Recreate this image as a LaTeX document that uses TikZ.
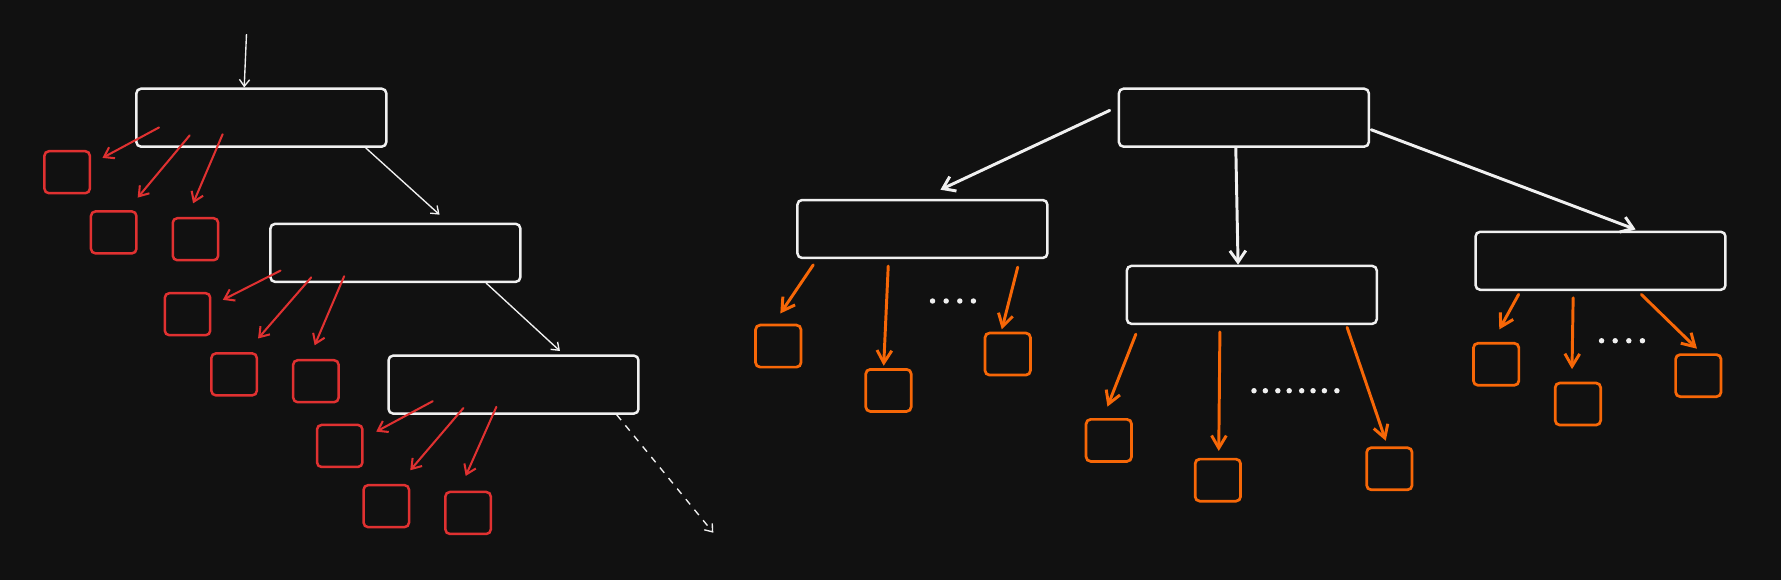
\documentclass[tikz,border=0pt]{standalone}
\usetikzlibrary{arrows.meta}
\definecolor{bgc}{HTML}{111111}
\definecolor{fgw}{HTML}{F0F0F0}
\definecolor{redc}{HTML}{E03131}
\definecolor{orgc}{HTML}{F76707}
\begin{document}
\begin{tikzpicture}[x=0.5pt,y=-0.5pt,
  wbox/.style={draw=fgw, line width=1.1pt, rounded corners=2pt, minimum width=110pt, minimum height=25.5pt, inner sep=0pt, anchor=north west},
  rsq/.style={draw=redc, line width=1.1pt, rounded corners=2pt, minimum width=20pt, minimum height=18.5pt, inner sep=0pt, anchor=north west},
  osq/.style={draw=orgc, line width=1.2pt, rounded corners=2pt, minimum width=20pt, minimum height=18.5pt, inner sep=0pt, anchor=north west},
  wthin/.style={draw=fgw, line width=0.6pt, -{Straight Barb[length=3pt,width=4.5pt]}},
  wthick/.style={draw=fgw, line width=1.3pt, line cap=round, -{Straight Barb[length=5pt,width=7pt]}},
  rarr/.style={draw=redc, line width=0.9pt, line cap=round, -{Straight Barb[length=4pt,width=5.5pt]}},
  oarr/.style={draw=orgc, line width=1.3pt, line cap=round, -{Straight Barb[length=5.5pt,width=6.5pt]}},
  dotc/.style={circle, fill=fgw, inner sep=0pt, minimum size=2.4pt}
]
\fill[bgc] (0,0) rectangle (1568,510.6);
\useasboundingbox (0,0) rectangle (1568,510.6);

% ---------- left chain ----------
\node[wbox] (A) at (119,77) {};
\node[wbox] (B) at (237,196) {};
\node[wbox] (C) at (341,312) {};

\coordinate (top) at (217,30);
\draw[wthin] (top) -- (A.north -| 215,0);
\draw[wthin] (A.south -| 322,0) -- ([shift={(0,-7)}]B.north -| 387,0);
\draw[wthin] (B.south -| 428,0) -- ([shift={(0,-3)}]C.north -| 493,0);
\coordinate (cend) at (628,469);
\draw[wthin, dashed] (C.south -| 543,0) -- (cend);

\node[rsq] (a1) at (38,132) {};
\node[rsq] (a2) at (79,185) {};
\node[rsq] (a3) at (151,191) {};
\draw[rarr] ([shift={(21,-18)}]A.south west) -- ([shift={(10,7)}]a1.north east);
\draw[rarr] ([shift={(48,-11)}]A.south west) -- ([shift={(0,-11)}]a2.north east);
\draw[rarr] ([shift={(77,-12)}]A.south west) -- ([shift={(19,-12)}]a3.north west);

\node[rsq] (b1) at (144,257) {};
\node[rsq] (b2) at (185,310) {};
\node[rsq] (b3) at (257,316) {};
\draw[rarr] ([shift={(10,-11)}]B.south west) -- ([shift={(10,7)}]b1.north east);
\draw[rarr] ([shift={(37,-5)}]B.south west) -- ([shift={(0,-12)}]b2.north east);
\draw[rarr] ([shift={(66,-6)}]B.south west) -- ([shift={(20,-12)}]b3.north west);

\node[rsq] (c1) at (278,373) {};
\node[rsq] (c2) at (319,426) {};
\node[rsq] (c3) at (391,432) {};
\draw[rarr] ([shift={(40,-12)}]C.south west) -- ([shift={(11,7)}]c1.north east);
\draw[rarr] ([shift={(67,-6)}]C.south west) -- ([shift={(0,-12)}]c2.north east);
\draw[rarr] ([shift={(96,-7)}]C.south west) -- ([shift={(19,-13)}]c3.north west);

% ---------- right tree ----------
\node[wbox] (R) at (984,77) {};
\node[wbox] (L1) at (701,175) {};
\node[wbox] (M1) at (991,233) {};
\node[wbox] (R1) at (1298,203) {};

\draw[wthick] ([shift={(-7,-33)}]R.south west) -- ([shift={(127,-8)}]L1.north west);
\draw[wthick] (R.south -| 1088,0) -- (M1.north -| 1090,0);
\draw[wthick] ([shift={(1,-16)}]R.south east) -- ([shift={(142,-1)}]R1.north west);

\node[osq] (l1) at (664,285) {};
\node[osq] (l2) at (761,324) {};
\node[osq] (l3) at (866,292) {};
\draw[oarr] ([shift={(15,5)}]L1.south west) -- ([shift={(23,-9)}]l1.north west);
\draw[oarr] ([shift={(81,6)}]L1.south west) -- ([shift={(17,-2)}]l2.north west);
\draw[oarr] ([shift={(195,7)}]L1.south west) -- ([shift={(16,-2)}]l3.north west);
\node[dotc] (ld1) at (821,265) {};
\node[dotc] (ld2) at (833,265) {};
\node[dotc] (ld3) at (845,265) {};
\node[dotc] (ld4) at (857,265) {};

\node[osq] (m1) at (955,368) {};
\node[osq] (m2) at (1051,403) {};
\node[osq] (m3) at (1202,393) {};
\draw[oarr] ([shift={(9,8)}]M1.south west) -- ([shift={(20,-10)}]m1.north west);
\draw[oarr] ([shift={(83,6)}]M1.south west) -- ([shift={(22,-6)}]m2.north west);
\draw[oarr] ([shift={(195,2)}]M1.south west) -- ([shift={(18,-5)}]m3.north west);
\foreach \i/\xx in {1/1104,2/1114,3/1125,4/1135,5/1146,6/1156,7/1166,8/1177}
  \node[dotc] (md\i) at (\xx,344) {};

\node[osq] (r1) at (1296,301) {};
\node[osq] (r2) at (1368,336) {};
\node[osq] (r3) at (1474,311) {};
\draw[oarr] ([shift={(39,3)}]R1.south west) -- ([shift={(24,-11)}]r1.north west);
\draw[oarr] ([shift={(87,6)}]R1.south west) -- ([shift={(16,-11)}]r2.north west);
\draw[oarr] ([shift={(147,3)}]R1.south west) -- ([shift={(20,-4)}]r3.north west);
\node[dotc] (rd1) at (1410,300) {};
\node[dotc] (rd2) at (1422,300) {};
\node[dotc] (rd3) at (1434,300) {};
\node[dotc] (rd4) at (1446,300) {};
\end{tikzpicture}
\end{document}
